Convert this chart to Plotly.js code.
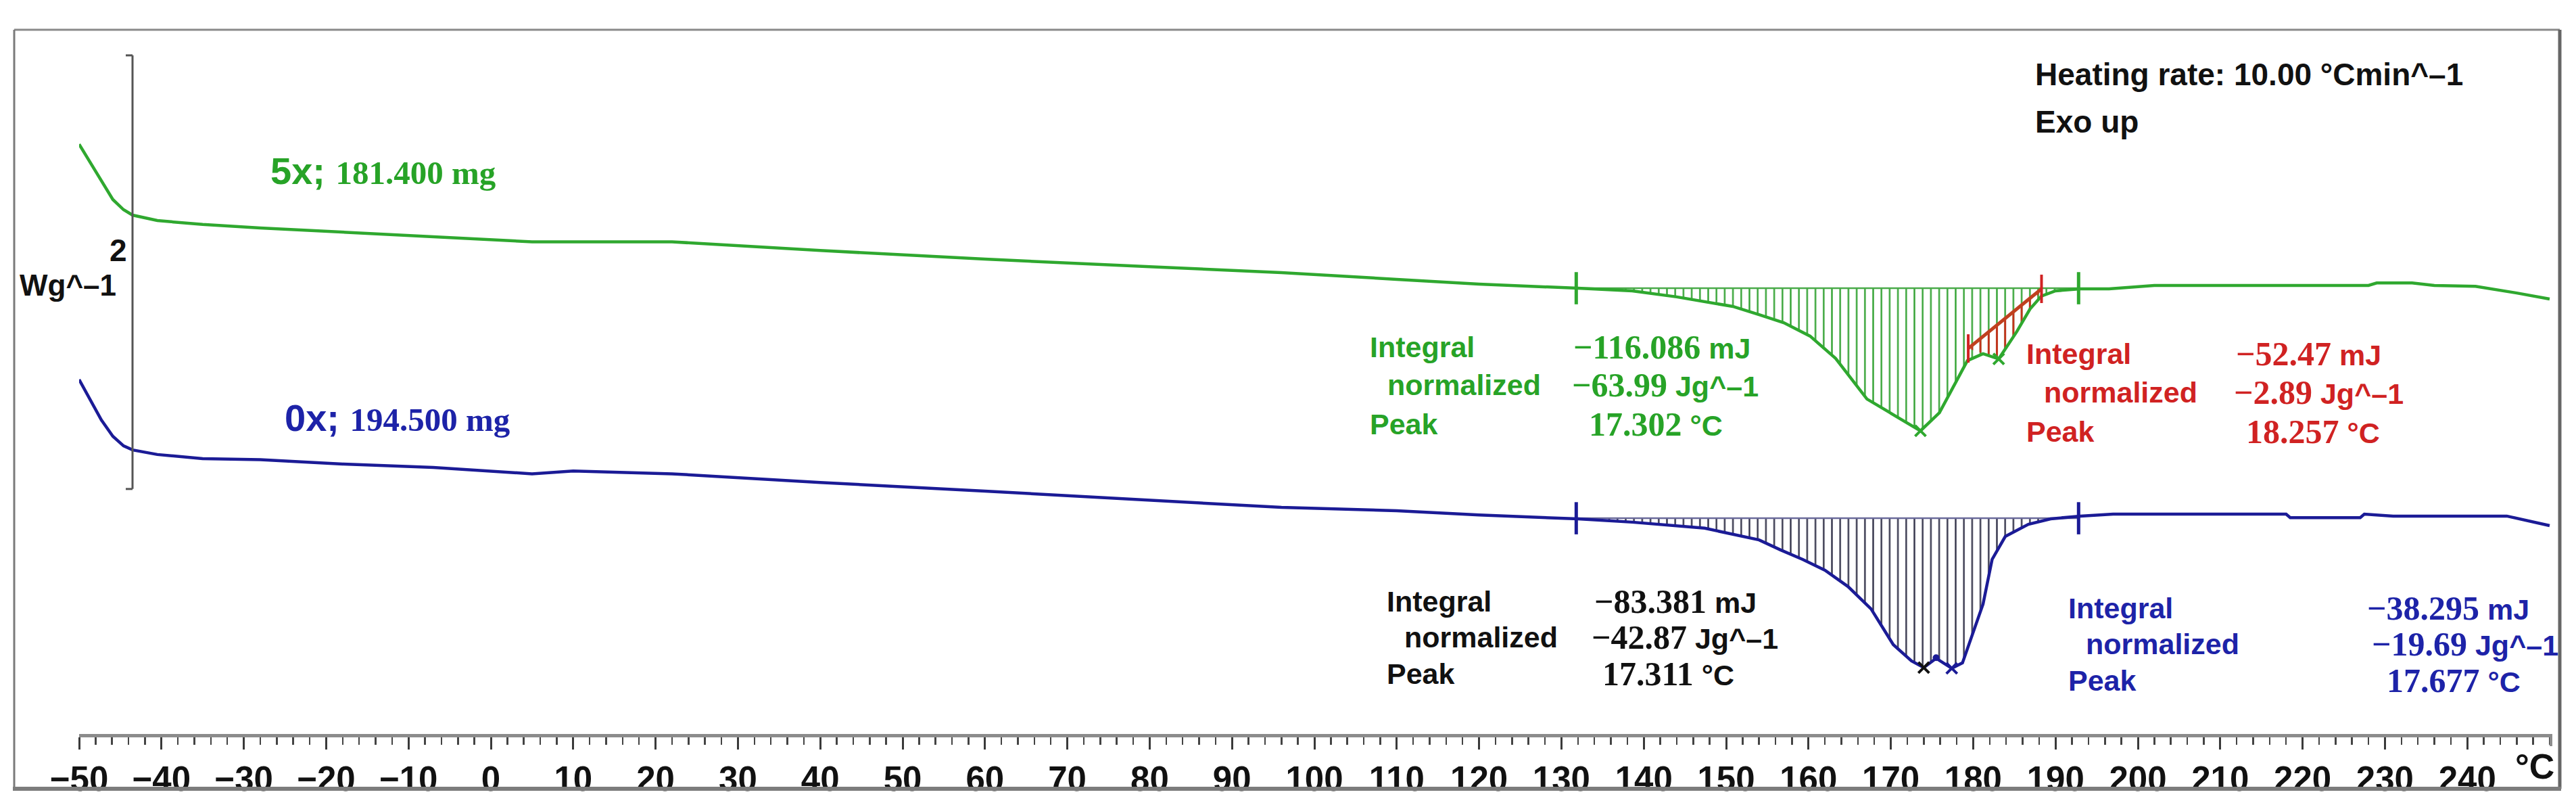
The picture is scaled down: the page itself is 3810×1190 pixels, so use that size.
<!DOCTYPE html>
<html>
<head>
<meta charset="utf-8">
<script src="https://cdn.plot.ly/plotly-3.0.1.min.js"></script>
<style>html,body{margin:0;padding:0;background:#fff;}#chart{width:3810px;height:1190px;}</style>
</head>
<body>
<div id="chart"></div>
<script>
// ---------------- DATA ----------------
// Sample 5x (181.400 mg): temperature (°C) and heat flow (W/g, arbitrary offset)
const temps5x = [-50, -47.3, -45.9, -44.6, -43.5, -40.5, -35, -28, -18, -7, 5, 10, 22, 40, 60, 80, 96, 110, 120, 132,
  138.6, 144, 150.8, 154, 157, 160.2, 163.3, 167.1, 170.9, 173.6, 175.9, 179.3, 181.2, 183.1, 185.3, 186.9, 188.3, 190,
  193, 196.5, 202, 228, 229, 233.3, 236, 241, 246, 250];
const heatFlow5x = [2.72, 2.55, 2.465, 2.418, 2.393, 2.368, 2.35, 2.334, 2.315, 2.295, 2.27, 2.27, 2.27, 2.23, 2.19, 2.155, 2.128, 2.097, 2.075, 2.056,
  2.044, 2.016, 1.972, 1.934, 1.897, 1.835, 1.732, 1.545, 1.46, 1.398, 1.482, 1.722, 1.754, 1.73, 1.856, 1.96, 2.02, 2.044,
  2.053, 2.053, 2.069, 2.069, 2.08, 2.08, 2.069, 2.065, 2.034, 2.006];

// Sample 0x (194.500 mg)
const temps0x = [-50, -47.3, -45.9, -44.6, -43.5, -40.5, -35, -28, -18, -7, 5, 10, 22, 40, 60, 80, 96, 110, 120, 132,
  138.6, 147.4, 154, 156.6, 159.3, 162, 164.8, 167.6, 170.3, 172.5, 174, 175.5, 177.4, 178.7, 180.1, 181.2, 182.3, 183.9,
  186.7, 189.4, 193, 197, 218, 218.5, 227, 227.5, 231, 244.8, 250];
const heatFlow0x = [1.635, 1.448, 1.373, 1.329, 1.31, 1.289, 1.27, 1.265, 1.245, 1.229, 1.20, 1.213, 1.20, 1.16, 1.12, 1.08, 1.045, 1.03, 1.01, 0.992,
  0.977, 0.949, 0.895, 0.849, 0.805, 0.755, 0.68, 0.577, 0.412, 0.337, 0.306, 0.349, 0.303, 0.328, 0.474, 0.599, 0.805, 0.911,
  0.967, 0.992, 1.005, 1.014, 1.014, 0.998, 0.998, 1.014, 1.005, 1.005, 0.961];

// Integration limits and baselines
const integrationLimits = [131.8, 192.8];
const baseline5x = 2.056;
const baseline0x = 0.995;
const redLimits = [179.4, 188.3];
const redBaseline = [1.778, 2.053];

// Peak markers
const peak5xT = [173.6], peak5xV = [1.398];
const shoulder5xT = [183.1], shoulder5xV = [1.73];
const peak0xT = [174.0], peak0xV = [0.306];
const peak0xBlueT = [177.4], peak0xBlueV = [0.303];
const dot0xT = [175.5], dot0xV = [0.352];

// Scale bar (W/g)
const scaleBarBottom = 1.13, scaleBarLength = 2;

// Axis ticks
const tickVals = [-50,-40,-30,-20,-10,0,10,20,30,40,50,60,70,80,90,100,110,120,130,140,150,160,170,180,190,200,210,220,230,240];
const tickLabels = ["−50","−40","−30","−20","−10","0","10","20","30","40","50","60","70","80","90","100","110","120","130","140","150","160","170","180","190","200","210","220","230","240"];

// Texts
const sample5xName = "5x;", sample5xMass = "181.400 mg";
const sample0xName = "0x;", sample0xMass = "194.500 mg";
const rowLabels = ["Integral", "normalized", "Peak"];
const green5xValues = [["−116.086", " mJ"], ["−63.99", " Jg^–1"], ["17.302", " °C"]];
const red5xValues = [["−52.47", " mJ"], ["−2.89", " Jg^–1"], ["18.257", " °C"]];
const black0xValues = [["−83.381", " mJ"], ["−42.87", " Jg^–1"], ["17.311", " °C"]];
const blue0xValues = [["−38.295", " mJ"], ["−19.69", " Jg^–1"], ["17.677", " °C"]];
const headerLines = ["Heating rate: 10.00 °Cmin^–1", "Exo up"];
const scaleLabel = "2", unitLabel = "Wg^–1", axisUnit = "°C";

// ---------------- LAYOUT HELPERS ----------------
const W = 3810, H = 1190, ML = 117, MR = 37, MT = 44, MB = 105;
const PW = W - ML - MR, PH = H - MT - MB;
const px = p => (p - ML) / PW;
const py = p => (H - MB - p) / PH;

const GREEN = '#2fa82f', GREEN_TXT = '#27a327', BLUE = '#1b1b96', BLUE_TXT = '#1d23a8', RED = '#d02222';
const SANS = 'Liberation Sans, Arial, sans-serif';
const SERIF = "'Liberation Serif'";

function curveBetween(Ts, Vs, a, b, va, vb) {
  const xs = [a], ys = [va];
  for (let i = 0; i < Ts.length; i++) if (Ts[i] > a && Ts[i] < b) { xs.push(Ts[i]); ys.push(Vs[i]); }
  xs.push(b); ys.push(vb);
  return {xs, ys};
}

const g = curveBetween(temps5x, heatFlow5x, integrationLimits[0], integrationLimits[1], baseline5x, baseline5x);
const b = curveBetween(temps0x, heatFlow0x, integrationLimits[0], integrationLimits[1], baseline0x, baseline0x);
const r = curveBetween(temps5x, heatFlow5x, redLimits[0], redLimits[1], redBaseline[0], redBaseline[1]);

const hatch = (col, sol) => ({shape: '|', size: 12.2, solidity: sol, fgcolor: col, bgcolor: 'rgba(0,0,0,0)', fgopacity: 1});

const traces = [
  {x: g.xs, y: g.ys, mode: 'lines', line: {width: 0}, fill: 'toself', fillcolor: 'rgba(0,0,0,0)', fillpattern: hatch('#37a437', 0.2), hoverinfo: 'skip'},
  {x: b.xs, y: b.ys, mode: 'lines', line: {width: 0}, fill: 'toself', fillcolor: 'rgba(0,0,0,0)', fillpattern: hatch('#38384e', 0.2), hoverinfo: 'skip'},
  {x: r.xs, y: r.ys, mode: 'lines', line: {width: 0}, fill: 'toself', fillcolor: 'rgba(0,0,0,0)', fillpattern: hatch('#c3321c', 0.24), hoverinfo: 'skip'},
  {x: integrationLimits, y: [baseline5x, baseline5x], mode: 'lines', line: {color: '#4aaa4a', width: 2.5}},
  {x: integrationLimits, y: [baseline0x, baseline0x], mode: 'lines', line: {color: '#6a6a9a', width: 2.5}},
  {x: redLimits, y: redBaseline, mode: 'lines', line: {color: '#c0401e', width: 5}},
  {x: temps5x, y: heatFlow5x, mode: 'lines', line: {color: GREEN, width: 4.5}},
  {x: temps0x, y: heatFlow0x, mode: 'lines', line: {color: BLUE, width: 4.5}},
  {x: integrationLimits, y: [baseline5x, baseline5x], mode: 'markers', marker: {symbol: 'line-ns', size: 34, line: {color: GREEN, width: 5}}},
  {x: integrationLimits, y: [baseline0x, baseline0x], mode: 'markers', marker: {symbol: 'line-ns', size: 34, line: {color: BLUE, width: 5}}},
  {x: redLimits, y: redBaseline, mode: 'markers', marker: {symbol: 'line-ns', size: 30, line: {color: RED, width: 4}}},
  {x: peak5xT, y: peak5xV, mode: 'markers', marker: {symbol: 'x-thin', size: 16, line: {color: GREEN, width: 4}}},
  {x: shoulder5xT, y: shoulder5xV, mode: 'markers', marker: {symbol: 'x-thin', size: 16, line: {color: GREEN, width: 4}}},
  {x: peak0xT, y: peak0xV, mode: 'markers', marker: {symbol: 'x-thin', size: 16, line: {color: '#111', width: 4}}},
  {x: peak0xBlueT, y: peak0xBlueV, mode: 'markers', marker: {symbol: 'x-thin', size: 16, line: {color: BLUE, width: 4}}},
  {x: dot0xT, y: dot0xV, mode: 'markers', marker: {symbol: 'circle', size: 10, color: BLUE}}
];

// ---------------- ANNOTATIONS ----------------
const ann = [];
function txt(x, y, text, color, size, opts) {
  ann.push(Object.assign({xref: 'paper', yref: 'paper', x: px(x), y: py(y), xanchor: 'left', yanchor: 'middle',
    text: text, showarrow: false, font: {family: SANS, size: size, color: color}}, opts || {}));
}
function valText(v, size) {
  return '<span style="font-family:' + SERIF + ';font-weight:bold;font-size:' + size + 'px">' + v[0] + '</span><b>' + v[1] + '</b>';
}
function block(color, labX, valX, ys, values) {
  const indent = [0, 26, 0];
  for (let i = 0; i < 3; i++) {
    txt(labX + indent[i], ys[i], '<b>' + rowLabels[i] + '</b>', color, 43);
    txt(valX[i], ys[i], valText(values[i], 50), color, 43);
  }
}
block(GREEN_TXT, 2024, [2325, 2323, 2348], [513, 569, 627], green5xValues);
block(RED, 2995, [3305, 3302, 3320], [523, 580, 638], red5xValues);
block('#111111', 2049, [2356, 2352, 2368], [889, 942, 996], black0xValues);
block(BLUE_TXT, 3057, [3499, 3506, 3528], [899, 952, 1006], blue0xValues);

txt(398, 252, '<b>' + sample5xName + '</b> <span style="font-family:' + SERIF + ';font-weight:bold;font-size:49px">' + sample5xMass + '</span>', GREEN_TXT, 56);
txt(419, 617, '<b>' + sample0xName + '</b> <span style="font-family:' + SERIF + ';font-weight:bold;font-size:49px">' + sample0xMass + '</span>', BLUE_TXT, 56);

txt(3008, 110, '<b>' + headerLines[0] + '</b>', '#111', 46);
txt(3008, 180, '<b>' + headerLines[1] + '</b>', '#111', 46);

txt(190, 370, '<b>' + scaleLabel + '</b>', '#111', 46, {xanchor: 'right'});
txt(174, 421, '<b>' + unitLabel + '</b>', '#111', 44, {xanchor: 'right'});
txt(3749, 1133, '<b>' + axisUnit + '</b>', '#111', 52, {xanchor: 'center'});

// ---------------- SHAPES ----------------
const barX = px(196);
const shapes = [
  // frame
  {type: 'line', xref: 'paper', yref: 'paper', x0: px(21), x1: px(3786), y0: py(44), y1: py(44), line: {color: '#8a8a8a', width: 3}},
  {type: 'line', xref: 'paper', yref: 'paper', x0: px(21), x1: px(21), y0: py(44), y1: py(1166), line: {color: '#7a7a7a', width: 3}},
  {type: 'line', xref: 'paper', yref: 'paper', x0: px(3786), x1: px(3786), y0: py(44), y1: py(1166), line: {color: '#666', width: 5}},
  {type: 'line', xref: 'paper', yref: 'paper', x0: px(19), x1: px(3788), y0: py(1166), y1: py(1166), line: {color: '#7c7c7c', width: 6}},
  // scale bar
  {type: 'line', xref: 'paper', yref: 'y', x0: barX, x1: barX, y0: scaleBarBottom, y1: scaleBarBottom + scaleBarLength, line: {color: '#555', width: 3}},
  {type: 'line', xref: 'paper', yref: 'y', x0: px(186), x1: barX, y0: scaleBarBottom, y1: scaleBarBottom, line: {color: '#555', width: 3}},
  {type: 'line', xref: 'paper', yref: 'y', x0: px(186), x1: barX, y0: scaleBarBottom + scaleBarLength, y1: scaleBarBottom + scaleBarLength, line: {color: '#555', width: 3}},
  // axis end hook
  {type: 'line', xref: 'paper', yref: 'paper', x0: 1, x1: 1, y0: py(1085), y1: py(1103), line: {color: '#8c8c8c', width: 4}}
];

const layout = {
  width: W, height: H,
  margin: {l: ML, r: MR, t: MT, b: MB, pad: 0},
  paper_bgcolor: '#ffffff', plot_bgcolor: '#ffffff',
  showlegend: false,
  xaxis: {
    range: [-50, -50 + PW / 12.18], showline: true, linecolor: '#8c8c8c', linewidth: 5,
    ticks: 'outside', ticklen: 18, tickwidth: 3, tickcolor: '#3a3a3a',
    tickmode: 'array', tickvals: tickVals, ticktext: tickLabels,
    tickfont: {family: SANS, size: 51, color: '#111', weight: 'bold'},
    minor: {tickmode: 'linear', tick0: -50, dtick: 2, ticks: 'outside', ticklen: 11, tickwidth: 2.5, tickcolor: '#444', showgrid: false},
    showgrid: false, zeroline: false, fixedrange: true
  },
  yaxis: {range: [0, PH / 320.5], visible: false, fixedrange: true, showgrid: false, zeroline: false},
  annotations: ann,
  shapes: shapes
};

Plotly.newPlot('chart', traces, layout, {staticPlot: true, displayModeBar: false});
</script>
</body>
</html>
